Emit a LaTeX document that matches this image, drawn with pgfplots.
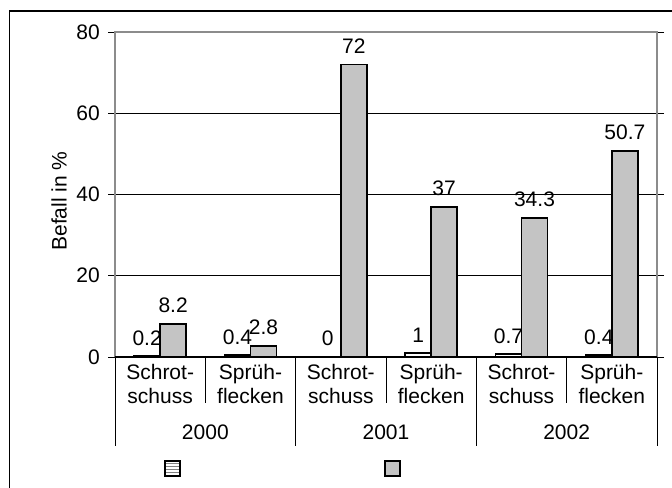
\documentclass[border=0pt]{standalone}
\usepackage{pgfplots}
\pgfplotsset{compat=1.18}
\usepackage{pgfplotstable}
\usepackage{fontspec}
\setmainfont{Liberation Sans}
\usetikzlibrary{patterns}

\definecolor{barfill}{RGB}{196,196,196}
\definecolor{frame}{RGB}{140,140,140}

\pgfplotstableread{
x s1 s2
0 0.2 8.2
1 0.4 2.8
2 0 72
3 1 37
4 0.7 34.3
5 0.4 50.7
}\befall

\newcommand{\chartfont}{\fontsize{21bp}{24bp}\selectfont}

\begin{document}
\chartfont
\begin{tikzpicture}[x=1bp,y=1bp]
\useasboundingbox (-115,-131) rectangle (557,357);
% outer chart border (only left and top show)
\draw[black, line width=1.2bp] (-105.5,-140) -- (-105.5,346) -- (570,346);
\begin{axis}[
  at={(0,0)}, anchor=south west,
  width=542bp, height=325bp, scale only axis,
  clip=false,
  xmin=-0.5, xmax=5.5, ymin=0, ymax=80,
  xtick={0,...,5},
  xticklabels={{Schrot-\\schuss},{Spr\"uh-\\flecken},{Schrot-\\schuss},{Spr\"uh-\\flecken},{Schrot-\\schuss},{Spr\"uh-\\flecken}},
  xticklabel style={align=center, font=\chartfont, yshift=7bp},
  ytick={0,20,40,60,80},
  yticklabel style={font=\chartfont, xshift=-1bp},
  /pgf/number format/assume math mode=true,
  axis line style={draw=none},
  ymajorgrids, grid style={black, line width=0.9bp},
  tick align=outside, major tick length=7bp,
  y tick style={black, line width=0.9bp},
  x tick style={draw=none},
  ybar=0pt, bar width=26bp,
  every axis plot post/.append style={
    legend image code/.code={\draw[##1, line width=2bp] (0bp,-7.5bp) rectangle (15bp,7.5bp);}},
  nodes near coords,
  nodes near coords style={font=\chartfont, yshift=3bp},
  legend columns=2,
  legend style={at={(axis description cs:0,0)}, anchor=west,
    xshift=49bp, yshift=-111.7bp, draw=none, fill=none, inner sep=0pt,
    /tikz/every even column/.append style={column sep=199bp}},
  ylabel={Befall in \%},
  every axis y label/.style={at={(axis description cs:0,0.48)}, xshift=-56bp, rotate=90, anchor=center, font=\chartfont},
]
\addplot[draw=black, line width=1.8bp, pattern=horizontal lines, pattern color=gray]
  table[x=x, y=s1] {\befall};
\addlegendentry{\strut}
\addplot[draw=black, line width=1.8bp, fill=barfill]
  table[x=x, y=s2] {\befall};
\addlegendentry{\strut}

% plot area frame and zero line
\draw[frame, line width=1.5bp] (rel axis cs:0,0) -- (rel axis cs:0,1) -- (rel axis cs:1,1) -- (rel axis cs:1,0);
\draw[black, line width=1.5bp] (rel axis cs:0,0) -- (rel axis cs:1,0);
% category separators below the axis
\draw[black, line width=0.9bp] (axis cs:-0.5,0) -- ++(0bp,-89bp);
\draw[black, line width=0.9bp] (axis cs:1.5,0) -- ++(0bp,-89bp);
\draw[black, line width=0.9bp] (axis cs:3.5,0) -- ++(0bp,-89bp);
\draw[black, line width=0.9bp] (axis cs:5.5,0) -- ++(0bp,-89bp);
\draw[black, line width=0.9bp] (axis cs:0.5,0) -- ++(0bp,-46bp);
\draw[black, line width=0.9bp] (axis cs:2.5,0) -- ++(0bp,-46bp);
\draw[black, line width=0.9bp] (axis cs:4.5,0) -- ++(0bp,-46bp);
\node[font=\chartfont] at ([yshift=-75bp]axis cs:0.5,0) {2000};
\node[font=\chartfont] at ([yshift=-75bp]axis cs:2.5,0) {2001};
\node[font=\chartfont] at ([yshift=-75bp]axis cs:4.5,0) {2002};
\end{axis}
\end{tikzpicture}
\end{document}
